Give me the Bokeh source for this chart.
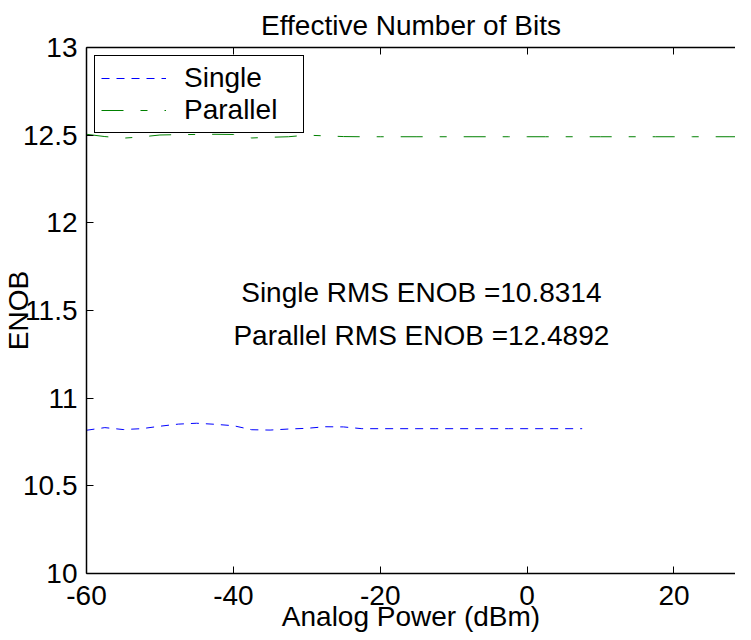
from bokeh.plotting import figure
from bokeh.models import (LinearAxis, FixedTicker, CustomJSTickFormatter, Range1d,
                          Legend, LegendItem, Label)
from bokeh.embed import file_html
from bokeh.resources import INLINE

# ---------------- data ----------------
power_single = [-60, -57.5, -55, -52.5, -50, -47.5, -45, -42.5, -40, -37.5,
                -35, -32.5, -30, -27.5, -25, -22.5, -20, -17.5, -15, -12.5,
                -10, -7.5, -5, -2.5, 0, 2.5, 5, 7.5]
enob_single = [10.817, 10.832, 10.821, 10.826, 10.840, 10.852, 10.857, 10.851,
               10.843, 10.820, 10.818, 10.824, 10.828, 10.837, 10.836, 10.826,
               10.826, 10.826, 10.826, 10.826, 10.826, 10.826, 10.826, 10.826,
               10.826, 10.826, 10.826, 10.826]

power_parallel = [-60, -57.5, -55, -52.5, -50, -47.5, -45, -42.5, -40, -37.5,
                  -35, -32.5, -30, -27.5, -25, -22.5, -20, -17.5, -15, -12.5,
                  -10, -7.5, -5, -2.5, 0, 2.5, 5, 7.5, 10, 12.5, 15, 17.5, 20,
                  22.5, 25, 27.5, 30]
enob_parallel = [12.505, 12.492, 12.483, 12.490, 12.501, 12.503, 12.504, 12.505,
                 12.504, 12.484, 12.488, 12.491, 12.500, 12.496, 12.492, 12.491,
                 12.491, 12.491, 12.491, 12.491, 12.491, 12.491, 12.491, 12.491,
                 12.491, 12.491, 12.491, 12.491, 12.491, 12.491, 12.491, 12.491,
                 12.491, 12.491, 12.491, 12.491, 12.491]

series_labels = ["Single", "Parallel"]
x_ticks = [-60, -40, -20, 0, 20]
y_ticks = [10, 10.5, 11, 11.5, 12, 12.5, 13]
annotation_lines = ["Single RMS ENOB =10.8314", "Parallel RMS ENOB =12.4892"]
annotation_x = -14.4
annotation_y = [11.605, 11.36]

FONT = "Liberation Sans"
FS = "28px"

# ---------------- figure ----------------
p = figure(width=735, height=640, output_backend="svg", toolbar_location=None,
           x_range=Range1d(-60, 28.38), y_range=Range1d(10, 13),
           min_border_left=81, min_border_right=0, min_border_top=47,
           min_border_bottom=67, x_axis_label="Analog Power (dBm)",
           y_axis_label="ENOB", title="Effective Number of Bits")
p.outline_line_color = None
p.xgrid.visible = False
p.ygrid.visible = False
p.background_fill_color = "white"
p.border_fill_color = "white"

p.title.text_font = FONT
p.title.text_font_size = FS
p.title.text_font_style = "normal"
p.title.align = "center"
p.title.text_color = "black"
p.title.standoff = 14

plain = CustomJSTickFormatter(code="return tick.toString();")

for ax in (p.xaxis[0], p.yaxis[0]):
    ax.axis_line_width = 1.5
    ax.axis_line_color = "black"
    ax.major_tick_in = 7
    ax.major_tick_out = 0
    ax.minor_tick_in = 0
    ax.minor_tick_out = 0
    ax.major_tick_line_color = "black"
    ax.major_label_text_font = FONT
    ax.major_label_text_font_size = FS
    ax.major_label_text_color = "black"
    ax.axis_label_text_font = FONT
    ax.axis_label_text_font_size = FS
    ax.axis_label_text_font_style = "normal"
    ax.axis_label_text_color = "black"
    ax.formatter = plain

p.xaxis[0].ticker = FixedTicker(ticks=x_ticks)
p.yaxis[0].ticker = FixedTicker(ticks=y_ticks)
p.xaxis[0].major_label_standoff = 12
p.xaxis[0].axis_label_standoff = -7
p.yaxis[0].major_label_standoff = 9
p.yaxis[0].axis_label_standoff = -14

top = LinearAxis(ticker=FixedTicker(ticks=x_ticks),
                 formatter=CustomJSTickFormatter(code="return '';"),
                 major_label_text_font_size="1px",
                 major_label_standoff=0, major_tick_in=7, major_tick_out=0,
                 minor_tick_in=0, minor_tick_out=0, axis_line_width=1.5,
                 axis_line_color="black", major_tick_line_color="black")
p.add_layout(top, "above")

r1 = p.line(power_single, enob_single, line_color="#0000ff", line_width=1,
            line_dash="8 7")
r2 = p.line(power_parallel, enob_parallel, line_color="#008000", line_width=1,
            line_dash="22 17 7 17")

legend = Legend(items=[LegendItem(label=series_labels[0], renderers=[r1]),
                       LegendItem(label=series_labels[1], renderers=[r2])],
                location=(8, 440), margin=0, padding=6, spacing=0,
                glyph_width=65, glyph_height=28, label_height=28,
                label_width=113, label_standoff=18,
                label_text_font=FONT, label_text_font_size=FS,
                label_text_color="black", border_line_color="black",
                border_line_width=1, border_line_alpha=1,
                background_fill_color="white", background_fill_alpha=1)
p.add_layout(legend)

for txt, yy in zip(annotation_lines, annotation_y):
    p.add_layout(Label(x=annotation_x, y=yy, text=txt, text_align="center",
                       text_baseline="alphabetic", text_font=FONT,
                       text_font_size=FS, text_color="black"))

open("out.html", "w").write(file_html(p, INLINE))
